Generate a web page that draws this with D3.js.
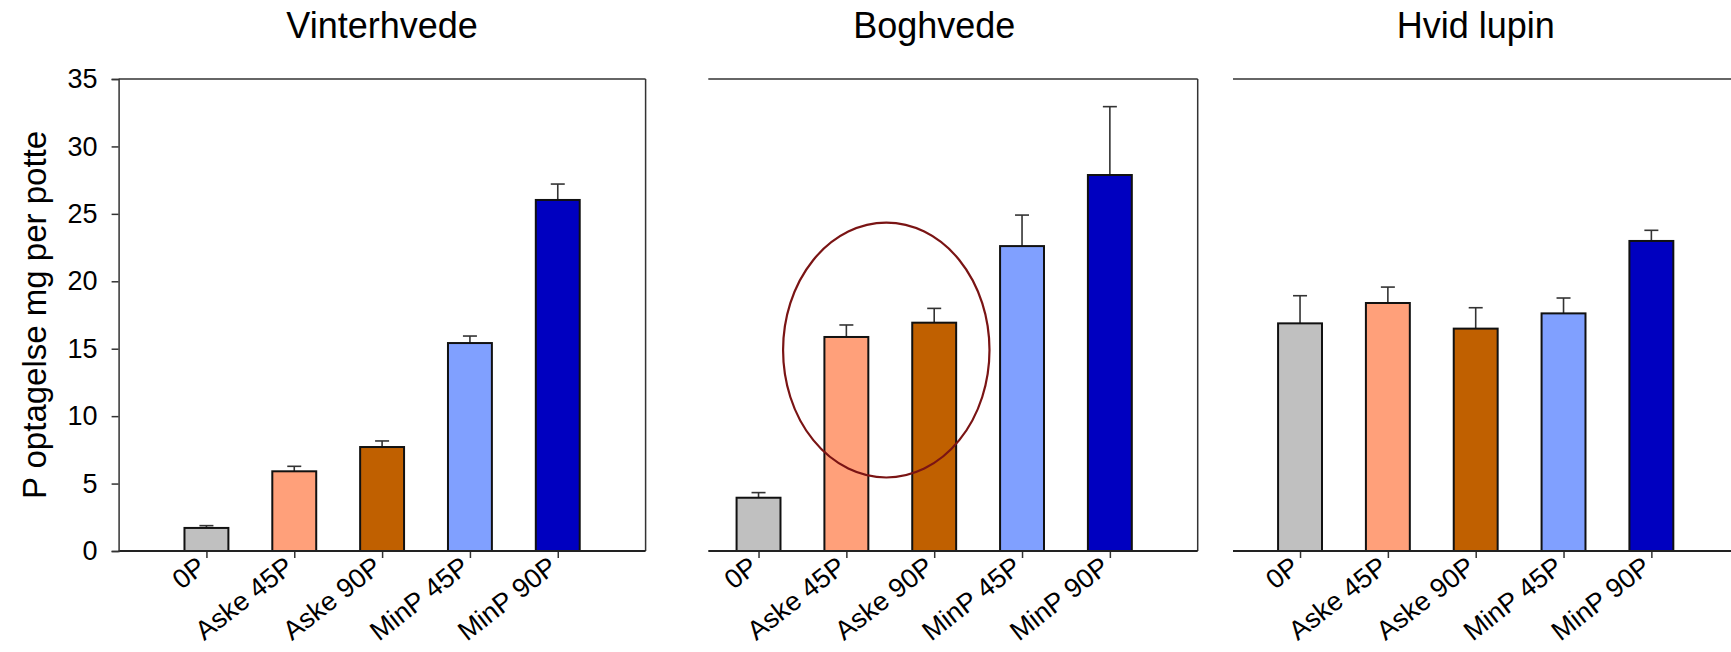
<!DOCTYPE html>
<html>
<head>
<meta charset="utf-8">
<script src="https://cdn.jsdelivr.net/npm/d3@7"></script>
<style>
  body { margin: 0; background: #fff; }
  svg { display: block; font-family: Arial, "Liberation Sans", sans-serif; }
</style>
</head>
<body>
<svg id="chart"></svg>
<script>
const categories = ["0P", "Aske 45P", "Aske 90P", "MinP 45P", "MinP 90P"];
const crops = ["Vinterhvede", "Boghvede", "Hvid lupin"];

// mean P uptake (mg per pot) and error (upper bar only)
const vinterhvedeMean = [1.71, 5.91, 7.71, 15.42, 26.03];
const vinterhvedeErr = [0.17, 0.37, 0.45, 0.52, 1.18];
const boghvedeMean = [3.95, 15.87, 16.93, 22.61, 27.88];
const boghvedeErr = [0.38, 0.89, 1.06, 2.30, 5.07];
const hvidLupinMean = [16.88, 18.39, 16.49, 17.62, 22.99];
const hvidLupinErr = [2.05, 1.18, 1.55, 1.14, 0.79];

const barColors = ["#c0c0c0", "#ffa07a", "#c06000", "#80a0ff", "#0000c0"];
const yTicks = [0, 5, 10, 15, 20, 25, 30, 35];
const yLabel = "P optagelse mg per potte";

// highlight ring around the ash bars of Boghvede
const ring = { crop: "Boghvede", between: ["Aske 45P", "Aske 90P"], center: 14.9, halfHeight: 9.45 };

const width = 1731;
const height = 652;

const svg = d3.select("#chart")
  .attr("width", width)
  .attr("height", height);

const y = d3.scaleLinear()
  .domain([0, 35])
  .range([551, 79]);

// each panel is the same size, later ones overlap and are cut on the left
const panelWidth = 527;
const panels = [
  { name: crops[0], mean: vinterhvedeMean, err: vinterhvedeErr, left: 118.6, clipLeft: 118.6, leftAxis: true, rightLine: true },
  { name: crops[1], mean: boghvedeMean, err: boghvedeErr, left: 670.7, clipLeft: 708.3, leftAxis: false, rightLine: true },
  { name: crops[2], mean: hvidLupinMean, err: hvidLupinErr, left: 1212.2, clipLeft: 1233, leftAxis: false, rightLine: true },
];

const frameColor = "#333";

panels.forEach((p) => {
  const x = d3.scalePoint()
    .domain(categories)
    .range([p.left, p.left + panelWidth])
    .padding(1);
  const barW = x.step() * 0.5;
  const right = p.left + panelWidth;

  const g = svg.append("g").attr("class", "panel");

  // title
  g.append("text")
    .attr("x", x(categories[2]))
    .attr("y", 38)
    .attr("text-anchor", "middle")
    .style("font-size", "36px")
    .text(p.name);

  // top frame line
  g.append("line")
    .attr("x1", p.clipLeft).attr("x2", right)
    .attr("y1", y(35)).attr("y2", y(35))
    .attr("stroke", frameColor).attr("stroke-width", 1.5);

  if (p.rightLine) {
    g.append("line")
      .attr("x1", right).attr("x2", right)
      .attr("y1", y(35)).attr("y2", y(0))
      .attr("stroke", frameColor).attr("stroke-width", 1.5);
  }

  // bars
  const data = categories.map((c, i) => ({ cat: c, v: p.mean[i], e: p.err[i], color: barColors[i] }));

  g.selectAll("line.err")
    .data(data)
    .enter()
    .append("line")
    .attr("class", "err")
    .attr("x1", d => x(d.cat)).attr("x2", d => x(d.cat))
    .attr("y1", d => y(d.v)).attr("y2", d => y(d.v + d.e))
    .attr("stroke", frameColor).attr("stroke-width", 1.6);

  g.selectAll("line.cap")
    .data(data)
    .enter()
    .append("line")
    .attr("class", "cap")
    .attr("x1", d => x(d.cat) - 7).attr("x2", d => x(d.cat) + 7)
    .attr("y1", d => y(d.v + d.e)).attr("y2", d => y(d.v + d.e))
    .attr("stroke", frameColor).attr("stroke-width", 1.6);

  g.selectAll("rect.bar")
    .data(data)
    .enter()
    .append("rect")
    .attr("class", "bar")
    .attr("x", d => x(d.cat) - barW / 2)
    .attr("y", d => y(d.v))
    .attr("width", barW)
    .attr("height", d => y(0) - y(d.v))
    .attr("fill", d => d.color)
    .attr("stroke", "#111")
    .attr("stroke-width", 2);

  // x axis
  const xAxis = d3.axisBottom(x).tickSize(7).tickFormat("");
  const xAxisG = g.append("g")
    .attr("transform", `translate(0, ${y(0)})`)
    .call(xAxis);
  xAxisG.select(".domain").remove();
  xAxisG.selectAll(".tick line").attr("stroke", frameColor).attr("stroke-width", 1.5);

  g.append("line")
    .attr("x1", p.clipLeft).attr("x2", right)
    .attr("y1", y(0)).attr("y2", y(0))
    .attr("stroke", "#222").attr("stroke-width", 2);

  g.selectAll("text.xlab")
    .data(categories)
    .enter()
    .append("text")
    .attr("class", "xlab")
    .attr("text-anchor", "end")
    .attr("transform", d => `translate(${x(d) + 1}, 570) rotate(-38)`)
    .style("font-size", "27px")
    .text(d => d);

  if (p.leftAxis) {
    const yAxis = d3.axisLeft(y).tickValues(yTicks).tickSize(7).tickPadding(14);
    const yAxisG = g.append("g")
      .attr("transform", `translate(${p.left}, 0)`)
      .call(yAxis);
    yAxisG.select(".domain").attr("stroke", frameColor).attr("stroke-width", 1.5);
    yAxisG.selectAll(".tick line").attr("stroke", frameColor).attr("stroke-width", 1.5);
    yAxisG.selectAll("text")
      .attr("fill", "#000")
      .style("font-size", "27px")
      .style("font-family", "Arial, 'Liberation Sans', sans-serif");

    g.append("text")
      .attr("transform", `translate(46, ${(y(0) + y(35)) / 2}) rotate(-90)`)
      .attr("text-anchor", "middle")
      .style("font-size", "33px")
      .text(yLabel);
  }

  if (p.name === ring.crop) {
    const cx = (x(ring.between[0]) + x(ring.between[1])) / 2 - 4;
    g.append("ellipse")
      .attr("cx", cx)
      .attr("cy", y(ring.center))
      .attr("rx", x.step() * 1.175)
      .attr("ry", y(0) - y(ring.halfHeight))
      .attr("fill", "none")
      .attr("stroke", "#7a1414")
      .attr("stroke-width", 2.2);
  }
});
</script>
</body>
</html>
